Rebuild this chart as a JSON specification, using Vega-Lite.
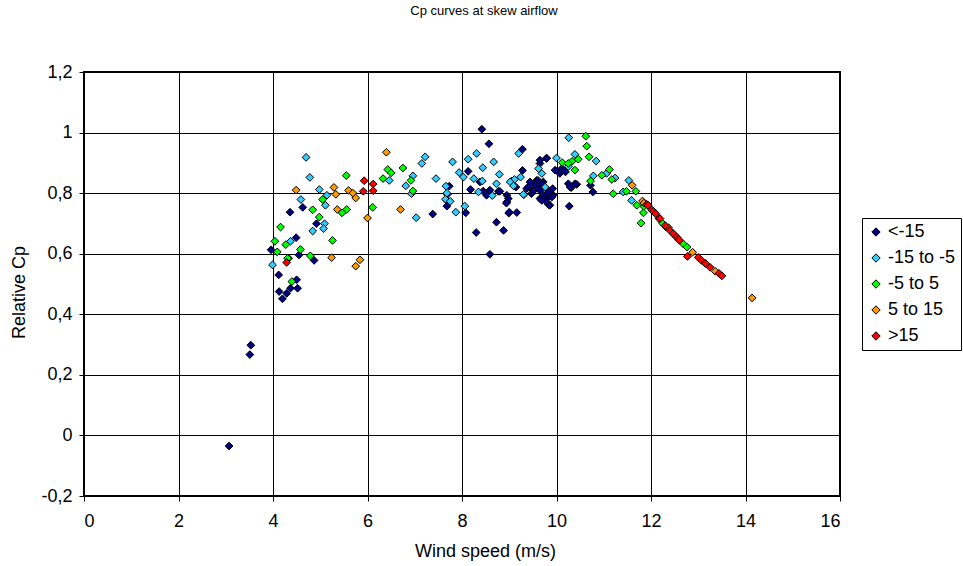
{
  "$schema": "https://vega.github.io/schema/vega-lite/v6.json",
  "autosize": "none",
  "width": 756,
  "height": 424,
  "padding": {"left": 84, "top": 72, "right": 123, "bottom": 70},
  "background": "white",
  "config": {
    "font": "Liberation Sans",
    "view": {"stroke": "black", "strokeWidth": 2},
    "axis": {"gridColor": "black", "gridOpacity": 1, "gridWidth": 1, "domain": false, "tickColor": "black", "tickSize": 5, "labelColor": "black", "labelFontSize": 18, "titleFontSize": 18, "titleFontWeight": "normal", "titleColor": "black"}
  },
  "title": {"text": "Cp curves at skew airflow", "fontSize": 13, "fontWeight": "normal", "anchor": "middle", "frame": "group", "dx": 22, "offset": 45, "color": "black"},
  "data": {"values": [
    {"x":3.07,"y":-0.035,"c":"<-15"},{"x":3.51,"y":0.267,"c":"<-15"},{"x":3.53,"y":0.298,"c":"<-15"},{"x":4.13,"y":0.475,"c":"<-15"},{"x":4.29,"y":0.469,"c":"<-15"},{"x":4.37,"y":0.486,"c":"<-15"},{"x":4.52,"y":0.486,"c":"<-15"},{"x":4.2,"y":0.451,"c":"<-15"},{"x":4.5,"y":0.514,"c":"<-15"},{"x":4.12,"y":0.53,"c":"<-15"},{"x":3.96,"y":0.613,"c":"<-15"},{"x":4.49,"y":0.653,"c":"<-15"},{"x":4.55,"y":0.596,"c":"<-15"},{"x":4.87,"y":0.578,"c":"<-15"},{"x":4.33,"y":0.585,"c":"<-15"},{"x":4.36,"y":0.737,"c":"<-15"},{"x":4.63,"y":0.753,"c":"<-15"},{"x":4.92,"y":0.699,"c":"<-15"},{"x":7.73,"y":0.823,"c":"<-15"},{"x":7.68,"y":0.776,"c":"<-15"},{"x":7.68,"y":0.757,"c":"<-15"},{"x":7.38,"y":0.731,"c":"<-15"},{"x":8.08,"y":0.735,"c":"<-15"},{"x":8.13,"y":0.872,"c":"<-15"},{"x":8.38,"y":0.837,"c":"<-15"},{"x":8.42,"y":1.011,"c":"<-15"},{"x":8.57,"y":0.963,"c":"<-15"},{"x":9.28,"y":0.945,"c":"<-15"},{"x":8.18,"y":0.812,"c":"<-15"},{"x":8.45,"y":0.807,"c":"<-15"},{"x":8.77,"y":0.806,"c":"<-15"},{"x":8.95,"y":0.793,"c":"<-15"},{"x":8.95,"y":0.771,"c":"<-15"},{"x":8.99,"y":0.734,"c":"<-15"},{"x":9.16,"y":0.736,"c":"<-15"},{"x":8.3,"y":0.67,"c":"<-15"},{"x":8.73,"y":0.704,"c":"<-15"},{"x":8.88,"y":0.677,"c":"<-15"},{"x":8.59,"y":0.598,"c":"<-15"},{"x":9.28,"y":0.875,"c":"<-15"},{"x":9.44,"y":0.837,"c":"<-15"},{"x":9.51,"y":0.809,"c":"<-15"},{"x":9.58,"y":0.842,"c":"<-15"},{"x":9.64,"y":0.815,"c":"<-15"},{"x":9.37,"y":0.815,"c":"<-15"},{"x":9.47,"y":0.798,"c":"<-15"},{"x":9.72,"y":0.837,"c":"<-15"},{"x":9.83,"y":0.809,"c":"<-15"},{"x":9.92,"y":0.815,"c":"<-15"},{"x":9.79,"y":0.782,"c":"<-15"},{"x":9.65,"y":0.782,"c":"<-15"},{"x":9.83,"y":0.762,"c":"<-15"},{"x":9.93,"y":0.793,"c":"<-15"},{"x":9.65,"y":0.898,"c":"<-15"},{"x":9.79,"y":0.916,"c":"<-15"},{"x":9.97,"y":0.876,"c":"<-15"},{"x":10.07,"y":0.865,"c":"<-15"},{"x":10.19,"y":0.87,"c":"<-15"},{"x":10.27,"y":0.757,"c":"<-15"},{"x":10.31,"y":0.818,"c":"<-15"},{"x":10.43,"y":0.829,"c":"<-15"},{"x":10.77,"y":0.804,"c":"<-15"},{"x":10.72,"y":0.826,"c":"<-15"},{"x":7.69,"y":0.796,"c":"<-15"},{"x":8.8,"y":0.806,"c":"<-15"},{"x":8.98,"y":0.782,"c":"<-15"},{"x":8.94,"y":0.767,"c":"<-15"},{"x":9.0,"y":0.737,"c":"<-15"},{"x":8.59,"y":0.81,"c":"<-15"},{"x":8.52,"y":0.793,"c":"<-15"},{"x":9.14,"y":0.82,"c":"<-15"},{"x":9.54,"y":0.826,"c":"<-15"},{"x":9.61,"y":0.842,"c":"<-15"},{"x":9.69,"y":0.831,"c":"<-15"},{"x":9.4,"y":0.82,"c":"<-15"},{"x":9.51,"y":0.807,"c":"<-15"},{"x":9.65,"y":0.809,"c":"<-15"},{"x":9.72,"y":0.793,"c":"<-15"},{"x":9.83,"y":0.804,"c":"<-15"},{"x":9.9,"y":0.787,"c":"<-15"},{"x":9.79,"y":0.771,"c":"<-15"},{"x":9.86,"y":0.76,"c":"<-15"},{"x":9.69,"y":0.776,"c":"<-15"},{"x":9.65,"y":0.909,"c":"<-15"},{"x":9.79,"y":0.914,"c":"<-15"},{"x":10.11,"y":0.881,"c":"<-15"},{"x":10.25,"y":0.831,"c":"<-15"},{"x":10.39,"y":0.831,"c":"<-15"},{"x":10.29,"y":0.82,"c":"<-15"},
    {"x":4.7,"y":0.918,"c":"-15 to -5"},{"x":4.78,"y":0.852,"c":"-15 to -5"},{"x":4.98,"y":0.812,"c":"-15 to -5"},{"x":4.59,"y":0.779,"c":"-15 to -5"},{"x":5.14,"y":0.793,"c":"-15 to -5"},{"x":5.11,"y":0.76,"c":"-15 to -5"},{"x":5.09,"y":0.699,"c":"-15 to -5"},{"x":5.07,"y":0.683,"c":"-15 to -5"},{"x":4.84,"y":0.675,"c":"-15 to -5"},{"x":4.37,"y":0.641,"c":"-15 to -5"},{"x":3.99,"y":0.563,"c":"-15 to -5"},{"x":6.46,"y":0.842,"c":"-15 to -5"},{"x":6.96,"y":0.857,"c":"-15 to -5"},{"x":6.81,"y":0.824,"c":"-15 to -5"},{"x":6.93,"y":0.798,"c":"-15 to -5"},{"x":7.22,"y":0.92,"c":"-15 to -5"},{"x":7.15,"y":0.898,"c":"-15 to -5"},{"x":7.03,"y":0.719,"c":"-15 to -5"},{"x":7.8,"y":0.903,"c":"-15 to -5"},{"x":8.13,"y":0.912,"c":"-15 to -5"},{"x":8.31,"y":0.931,"c":"-15 to -5"},{"x":8.67,"y":0.903,"c":"-15 to -5"},{"x":9.2,"y":0.931,"c":"-15 to -5"},{"x":7.94,"y":0.868,"c":"-15 to -5"},{"x":8.03,"y":0.853,"c":"-15 to -5"},{"x":8.44,"y":0.884,"c":"-15 to -5"},{"x":8.79,"y":0.862,"c":"-15 to -5"},{"x":8.43,"y":0.84,"c":"-15 to -5"},{"x":8.25,"y":0.848,"c":"-15 to -5"},{"x":7.45,"y":0.848,"c":"-15 to -5"},{"x":7.66,"y":0.823,"c":"-15 to -5"},{"x":7.68,"y":0.8,"c":"-15 to -5"},{"x":7.65,"y":0.78,"c":"-15 to -5"},{"x":7.87,"y":0.737,"c":"-15 to -5"},{"x":8.06,"y":0.757,"c":"-15 to -5"},{"x":8.35,"y":0.804,"c":"-15 to -5"},{"x":8.64,"y":0.792,"c":"-15 to -5"},{"x":8.73,"y":0.831,"c":"-15 to -5"},{"x":9.05,"y":0.84,"c":"-15 to -5"},{"x":9.11,"y":0.845,"c":"-15 to -5"},{"x":9.24,"y":0.853,"c":"-15 to -5"},{"x":9.31,"y":0.795,"c":"-15 to -5"},{"x":9.76,"y":0.82,"c":"-15 to -5"},{"x":9.62,"y":0.881,"c":"-15 to -5"},{"x":9.69,"y":0.865,"c":"-15 to -5"},{"x":10.0,"y":0.916,"c":"-15 to -5"},{"x":10.26,"y":0.983,"c":"-15 to -5"},{"x":10.39,"y":0.928,"c":"-15 to -5"},{"x":10.84,"y":0.906,"c":"-15 to -5"},{"x":10.78,"y":0.857,"c":"-15 to -5"},{"x":11.06,"y":0.865,"c":"-15 to -5"},{"x":11.24,"y":0.85,"c":"-15 to -5"},{"x":11.53,"y":0.842,"c":"-15 to -5"},{"x":11.41,"y":0.804,"c":"-15 to -5"},{"x":11.59,"y":0.776,"c":"-15 to -5"},{"x":9.02,"y":0.837,"c":"-15 to -5"},{"x":9.09,"y":0.824,"c":"-15 to -5"},{"x":7.75,"y":0.773,"c":"-15 to -5"},{"x":9.3,"y":0.796,"c":"-15 to -5"},{"x":10.25,"y":0.888,"c":"-15 to -5"},
    {"x":5.05,"y":0.779,"c":"-5 to 5"},{"x":5.55,"y":0.858,"c":"-5 to 5"},{"x":6.43,"y":0.878,"c":"-5 to 5"},{"x":6.5,"y":0.867,"c":"-5 to 5"},{"x":6.33,"y":0.848,"c":"-5 to 5"},{"x":6.75,"y":0.883,"c":"-5 to 5"},{"x":6.92,"y":0.842,"c":"-5 to 5"},{"x":6.96,"y":0.807,"c":"-5 to 5"},{"x":6.11,"y":0.753,"c":"-5 to 5"},{"x":4.84,"y":0.745,"c":"-5 to 5"},{"x":4.98,"y":0.721,"c":"-5 to 5"},{"x":5.46,"y":0.735,"c":"-5 to 5"},{"x":5.56,"y":0.746,"c":"-5 to 5"},{"x":4.16,"y":0.688,"c":"-5 to 5"},{"x":5.26,"y":0.644,"c":"-5 to 5"},{"x":4.04,"y":0.641,"c":"-5 to 5"},{"x":4.27,"y":0.63,"c":"-5 to 5"},{"x":4.09,"y":0.606,"c":"-5 to 5"},{"x":4.58,"y":0.614,"c":"-5 to 5"},{"x":4.79,"y":0.593,"c":"-5 to 5"},{"x":4.31,"y":0.585,"c":"-5 to 5"},{"x":4.4,"y":0.508,"c":"-5 to 5"},{"x":10.62,"y":0.988,"c":"-5 to 5"},{"x":10.64,"y":0.955,"c":"-5 to 5"},{"x":10.69,"y":0.92,"c":"-5 to 5"},{"x":10.12,"y":0.901,"c":"-5 to 5"},{"x":10.33,"y":0.905,"c":"-5 to 5"},{"x":10.46,"y":0.912,"c":"-5 to 5"},{"x":10.39,"y":0.876,"c":"-5 to 5"},{"x":10.72,"y":0.84,"c":"-5 to 5"},{"x":10.25,"y":0.898,"c":"-5 to 5"},{"x":10.96,"y":0.859,"c":"-5 to 5"},{"x":11.12,"y":0.878,"c":"-5 to 5"},{"x":11.17,"y":0.845,"c":"-5 to 5"},{"x":11.2,"y":0.798,"c":"-5 to 5"},{"x":11.68,"y":0.806,"c":"-5 to 5"},{"x":11.48,"y":0.806,"c":"-5 to 5"},{"x":11.7,"y":0.76,"c":"-5 to 5"},{"x":11.85,"y":0.756,"c":"-5 to 5"},{"x":11.79,"y":0.701,"c":"-5 to 5"},{"x":11.84,"y":0.735,"c":"-5 to 5"},{"x":12.24,"y":0.701,"c":"-5 to 5"},{"x":12.32,"y":0.688,"c":"-5 to 5"},{"x":12.51,"y":0.66,"c":"-5 to 5"},{"x":12.68,"y":0.633,"c":"-5 to 5"},{"x":12.76,"y":0.622,"c":"-5 to 5"},
    {"x":4.49,"y":0.81,"c":"5 to 15"},{"x":5.29,"y":0.819,"c":"5 to 15"},{"x":5.33,"y":0.796,"c":"5 to 15"},{"x":5.6,"y":0.809,"c":"5 to 15"},{"x":5.69,"y":0.8,"c":"5 to 15"},{"x":5.75,"y":0.784,"c":"5 to 15"},{"x":6.4,"y":0.935,"c":"5 to 15"},{"x":6.7,"y":0.746,"c":"5 to 15"},{"x":6.0,"y":0.718,"c":"5 to 15"},{"x":5.36,"y":0.746,"c":"5 to 15"},{"x":5.24,"y":0.587,"c":"5 to 15"},{"x":5.84,"y":0.58,"c":"5 to 15"},{"x":5.75,"y":0.559,"c":"5 to 15"},{"x":11.6,"y":0.826,"c":"5 to 15"},{"x":11.82,"y":0.774,"c":"5 to 15"},{"x":11.85,"y":0.767,"c":"5 to 15"},{"x":12.37,"y":0.686,"c":"5 to 15"},{"x":12.88,"y":0.605,"c":"5 to 15"},{"x":13.36,"y":0.542,"c":"5 to 15"},{"x":14.14,"y":0.454,"c":"5 to 15"},
    {"x":5.93,"y":0.841,"c":">15"},{"x":6.12,"y":0.83,"c":">15"},{"x":5.91,"y":0.806,"c":">15"},{"x":6.12,"y":0.808,"c":">15"},{"x":4.29,"y":0.571,"c":">15"},{"x":11.91,"y":0.763,"c":">15"},{"x":11.94,"y":0.76,"c":">15"},{"x":12.01,"y":0.745,"c":">15"},{"x":12.05,"y":0.74,"c":">15"},{"x":12.1,"y":0.732,"c":">15"},{"x":12.17,"y":0.716,"c":">15"},{"x":12.19,"y":0.716,"c":">15"},{"x":12.3,"y":0.693,"c":">15"},{"x":12.4,"y":0.677,"c":">15"},{"x":12.47,"y":0.666,"c":">15"},{"x":12.54,"y":0.655,"c":">15"},{"x":12.58,"y":0.649,"c":">15"},{"x":12.6,"y":0.644,"c":">15"},{"x":12.77,"y":0.591,"c":">15"},{"x":13.0,"y":0.588,"c":">15"},{"x":13.07,"y":0.578,"c":">15"},{"x":13.14,"y":0.569,"c":">15"},{"x":13.16,"y":0.567,"c":">15"},{"x":13.25,"y":0.555,"c":">15"},{"x":13.44,"y":0.535,"c":">15"},{"x":13.5,"y":0.527,"c":">15"}
  ]},
  "mark": {"type": "point", "shape": "diamond", "filled": true, "size": 60, "stroke": "black", "strokeWidth": 1, "opacity": 1},
  "encoding": {
    "x": {"field": "x", "type": "quantitative", "scale": {"domain": [0, 16], "nice": false, "zero": false},
      "axis": {"title": "Wind speed (m/s)", "values": [0,2,4,6,8,10,12,14,16], "labelPadding": 11, "titlePadding": 12, "titleX": 401, "titleAlign": "center"}},
    "y": {"field": "y", "type": "quantitative", "scale": {"domain": [-0.2, 1.2], "nice": false, "zero": false},
      "axis": {"title": "Relative Cp", "values": [-0.2,0,0.2,0.4,0.6,0.8,1,1.2], "labelExpr": "replace(replace(format(datum.value,'~g'),'.',','),'\u2212','-')", "labelPadding": 7, "titlePadding": 12, "titleY": 220, "titleAlign": "center"}},
    "color": {"field": "c", "type": "nominal",
      "scale": {"domain": ["<-15", "-15 to -5", "-5 to 5", "5 to 15", ">15"], "range": ["#000080", "#33CCFF", "#00FF00", "#FF9900", "#FF0000"]},
      "legend": {"title": null, "orient": "none", "legendX": 778, "legendY": 146, "symbolType": "diamond", "symbolSize": 70, "symbolStrokeColor": "black", "symbolStrokeWidth": 1, "labelFontSize": 18, "labelColor": "black", "strokeColor": "black", "fillColor": "white", "padding": 5, "rowPadding": 8, "labelOffset": 3, "symbolOpacity": 1}
    }
  }
}
